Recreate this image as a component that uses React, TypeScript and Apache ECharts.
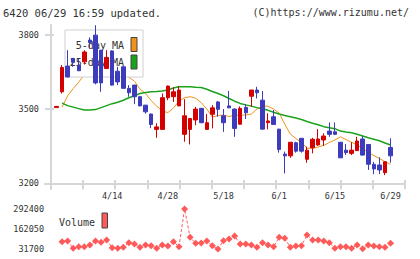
import React, { useEffect, useRef } from "react";
import * as echarts from "echarts";

// Trading days shown on the price chart
const dates = [
  "3/31", "4/1", "4/2", "4/3", "4/6", "4/7", "4/8", "4/9", "4/10", "4/13",
  "4/14", "4/15", "4/16", "4/17", "4/20", "4/21", "4/22", "4/23", "4/24", "4/27",
  "4/28", "4/30", "5/1", "5/7", "5/8", "5/11", "5/12", "5/13", "5/14", "5/15",
  "5/18", "5/19", "5/20", "5/21", "5/22", "5/25", "5/26", "5/27", "5/28", "5/29",
  "6/1", "6/2", "6/3", "6/4", "6/5", "6/8", "6/9", "6/10", "6/11", "6/12",
  "6/15", "6/16", "6/17", "6/18", "6/19", "6/22", "6/23", "6/24", "6/25", "6/26",
  "6/29",
];

const opens = [
  3506, 3570, 3674, 3705, 3678, 3691, 3779, 3799, 3738, 3664,
  3735, 3653, 3671, 3584, 3597, 3550, 3516, 3480, 3418, 3418,
  3546, 3550, 3513, 3398, 3418, 3456, 3503, 3418, 3479, 3529,
  3473, 3513, 3500, 3439, 3507, 3552, 3577, 3536, 3445, 3469,
  3419, 3318, 3311, 3364, 3382, 3297, 3344, 3355, 3375, 3411,
  3408, 3366, 3334, 3321, 3332, 3379, 3357, 3277, 3274, 3243,
  3345,
];
const closes = [
  3511, 3668, 3630, 3689, 3655, 3731, 3769, 3606, 3606, 3709,
  3597, 3610, 3584, 3566, 3550, 3513, 3489, 3438, 3428, 3546,
  3593, 3570, 3577, 3473, 3462, 3500, 3445, 3445, 3505, 3499,
  3445, 3505, 3422, 3503, 3485, 3577, 3566, 3419, 3452, 3438,
  3337, 3311, 3366, 3330, 3330, 3334, 3378, 3379, 3391, 3398,
  3398, 3303, 3324, 3334, 3371, 3314, 3277, 3258, 3254, 3287,
  3311,
];
const lows = [
  3506, 3563, 3628, 3671, 3654, 3680, 3745, 3600, 3570, 3664,
  3595, 3597, 3582, 3550, 3520, 3512, 3482, 3423, 3384, 3418,
  3536, 3529, 3512, 3368, 3357, 3435, 3443, 3417, 3422, 3469,
  3408, 3504, 3388, 3438, 3460, 3509, 3543, 3418, 3418, 3437,
  3324, 3240, 3303, 3324, 3324, 3283, 3321, 3352, 3351, 3388,
  3395, 3302, 3314, 3314, 3331, 3313, 3254, 3237, 3237, 3233,
  3283,
];
const highs = [
  3511, 3678, 3738, 3706, 3702, 3738, 3790, 3839, 3740, 3738,
  3737, 3671, 3672, 3597, 3598, 3552, 3517, 3482, 3443, 3563,
  3595, 3588, 3593, 3540, 3464, 3509, 3504, 3480, 3516, 3533,
  3500, 3573, 3503, 3511, 3520, 3578, 3590, 3573, 3483, 3496,
  3420, 3328, 3367, 3368, 3383, 3348, 3384, 3419, 3402, 3446,
  3446, 3367, 3359, 3366, 3388, 3391, 3358, 3287, 3305, 3288,
  3382,
];

const ma5 = [
  null, 3508, 3554, 3583, 3609, 3640, 3665, 3680, 3685, 3680,
  3670, 3660, 3648, 3629, 3613, 3581, 3563, 3534, 3512, 3492,
  3486, 3504, 3532, 3546, 3550, 3544, 3526, 3500, 3468, 3474,
  3476, 3470, 3474, 3476, 3476, 3480, 3500, 3512, 3512, 3500,
  3484, 3439, 3399, 3381, 3365, 3342, 3341, 3347, 3353, 3365,
  3375, 3388, 3377, 3366, 3355, 3340, 3325, 3312, 3301, 3287,
  3277,
];
const ma25 = [
  null, 3524, 3514, 3508, 3502, 3496, 3496, 3498, 3506, 3514,
  3522, 3528, 3536, 3546, 3554, 3563, 3567, 3570, 3571, 3573,
  3577, 3585, 3590, 3590, 3590, 3588, 3587, 3580, 3571, 3563,
  3554, 3543, 3532, 3523, 3517, 3512, 3506, 3501, 3495, 3487,
  3480, 3474, 3469, 3464, 3458, 3450, 3443, 3437, 3429, 3425,
  3421, 3411, 3407, 3404, 3398, 3391, 3384, 3378, 3372, 3363,
  3355,
];

const volumes = [
  null, 79300, 83800, 36300, 46700, 46700, 57800, 83800, 75400, 90400,
  40200, 36300, 42800, 72800, 64300, 42800, 57800, 53200, 36300, 57800,
  51300, 79300, 46700, 292400, 108000, 68800, 70800, 83800, 53200, 31700,
  85800, 96900, 116400, 64300, 64300, 57800, 42800, 72800, 57800, 46700,
  108000, 101400, 42800, 51300, 53200, 122900, 90400, 90400, 83800, 72800,
  36300, 46700, 46700, 36300, 57800, 33000, 57800, 51300, 46700, 42800,
  68800,
];

const dateLabels = ["4/14", "4/28", "5/18", "6/1", "6/15", "6/29"];
const priceTicks = [3200, 3500, 3800];
const volumeTicks = [31700, 162050, 292400];
const frameTicks = [0, 1, 2, 3, 4, 5, 6, 7, 8, 9, 10, 11];

const MONO = '"DejaVu Sans Mono", "Liberation Mono", monospace';
const AXIS_GRAY = "#d6d6d6";
const TEXT = "#333";
const UP = "#d40000";
const DOWN = "#3c3cbc";
const MA5_COLOR = "#f0921c";
const MA25_COLOR = "#1aa31a";
const VOL_COLOR = "#ff5a5a";

const plain = (v: number) => String(v);

export default function App() {
  const ref = useRef<HTMLDivElement>(null);

  useEffect(() => {
    if (!ref.current) return;
    const chart = echarts.init(ref.current, undefined, { renderer: "svg" });

    const labelStyle = { fontFamily: MONO, fontSize: 8.5, color: TEXT };

    chart.setOption({
      animation: false,
      backgroundColor: "#fff",
      title: [
        {
          text: "6420 06/29 16:59 updated.",
          left: 3,
          top: 7,
          padding: 0,
          textStyle: { fontFamily: MONO, fontSize: 10.5, fontWeight: "normal", color: TEXT },
        },
        {
          text: "(C)https://www.rizumu.net/",
          right: 11,
          top: 7,
          padding: 0,
          textStyle: { fontFamily: MONO, fontSize: 10, fontWeight: "normal", color: TEXT },
        },
      ],
      grid: [
        { left: 53.72, top: 25, width: 339.6, height: 158.3 },
        { left: 45, top: 25, width: 360, height: 164 },
        { left: 53.72, top: 209, width: 339.6, height: 40 },
      ],
      xAxis: [
        {
          type: "category",
          gridIndex: 0,
          data: dates,
          boundaryGap: true,
          axisLine: { show: false },
          axisTick: { show: false },
          splitLine: { show: false },
          axisLabel: {
            ...labelStyle,
            margin: 8,
            interval: (_i: number, v: string) => dateLabels.includes(v),
          },
        },
        {
          type: "value",
          gridIndex: 1,
          position: "bottom",
          min: -0.177,
          max: 11,
          offset: -5.7,
          axisLine: { show: true, lineStyle: { color: AXIS_GRAY, width: 2 } },
          axisTick: { show: true, length: 6, customValues: frameTicks, lineStyle: { color: AXIS_GRAY, width: 2 } },
          axisLabel: { show: false },
          splitLine: { show: false },
        },
        {
          type: "value",
          gridIndex: 1,
          position: "bottom",
          min: -0.177,
          max: 11,
          offset: -5.7,
          axisLine: { show: false },
          axisTick: { show: true, inside: true, length: 3.3, customValues: frameTicks, lineStyle: { color: AXIS_GRAY, width: 2 } },
          axisLabel: { show: false },
          splitLine: { show: false },
        },
        {
          type: "category",
          gridIndex: 2,
          data: dates,
          boundaryGap: true,
          show: false,
        },
      ],
      yAxis: [
        {
          type: "value",
          gridIndex: 1,
          position: "left",
          min: 3177,
          max: 3840,
          offset: -5.7,
          axisLine: { show: true, lineStyle: { color: AXIS_GRAY, width: 2 } },
          axisTick: { show: true, length: 5.7, customValues: priceTicks, lineStyle: { color: AXIS_GRAY, width: 2 } },
          axisLabel: { ...labelStyle, margin: 11.7, customValues: priceTicks, formatter: plain },
          splitLine: { show: false },
        },
        {
          type: "value",
          gridIndex: 1,
          position: "left",
          min: 3177,
          max: 3840,
          offset: -5.7,
          axisLine: { show: false },
          axisTick: { show: true, inside: true, length: 3.3, customValues: priceTicks, lineStyle: { color: AXIS_GRAY, width: 2 } },
          axisLabel: { show: false },
          splitLine: { show: false },
        },
        {
          type: "value",
          gridIndex: 0,
          min: 3200,
          max: 3840,
          show: false,
          splitLine: { show: false },
        },
        {
          type: "value",
          gridIndex: 2,
          position: "left",
          min: 31700,
          max: 292400,
          offset: 3,
          axisLine: { show: false },
          axisTick: { show: false },
          splitLine: { show: false },
          axisLabel: { ...labelStyle, margin: 6.7, customValues: volumeTicks, formatter: plain },
        },
      ],
      graphic: [
        {
          type: "rect",
          z: 2,
          shape: { x: 65, y: 30, width: 78, height: 47 },
          style: { fill: "#fff", stroke: "#d0d0d0", lineWidth: 1 },
        },
        {
          type: "text",
          z: 2,
          style: { x: 124, y: 45.5, text: "5-day MA", align: "right", verticalAlign: "middle", font: `10px ${MONO}`, fill: TEXT },
        },
        {
          type: "rect",
          z: 2,
          shape: { x: 131, y: 37.5, width: 6, height: 14 },
          style: { fill: MA5_COLOR, stroke: "#444", lineWidth: 1 },
        },
        {
          type: "text",
          z: 2,
          style: { x: 124, y: 62, text: "25-day MA", align: "right", verticalAlign: "middle", font: `10px ${MONO}`, fill: TEXT },
        },
        {
          type: "rect",
          z: 2,
          shape: { x: 131, y: 55, width: 6, height: 14 },
          style: { fill: MA25_COLOR, stroke: "#444", lineWidth: 1 },
        },
        {
          type: "text",
          z: 2,
          style: { x: 59, y: 222.5, text: "Volume", align: "left", verticalAlign: "middle", font: `10px ${MONO}`, fill: TEXT },
        },
        {
          type: "rect",
          z: 2,
          shape: { x: 102, y: 213, width: 5.5, height: 15 },
          style: { fill: VOL_COLOR, stroke: "#444", lineWidth: 1 },
        },
      ],
      series: [
        {
          name: "5-day MA",
          type: "line",
          xAxisIndex: 0,
          yAxisIndex: 2,
          data: ma5,
          symbol: "none",
          z: 1,
          lineStyle: { color: MA5_COLOR, width: 1 },
        },
        {
          name: "25-day MA",
          type: "line",
          xAxisIndex: 0,
          yAxisIndex: 2,
          data: ma25,
          symbol: "none",
          z: 1,
          lineStyle: { color: MA25_COLOR, width: 1.5 },
        },
        {
          name: "Price",
          type: "candlestick",
          xAxisIndex: 0,
          yAxisIndex: 2,
          z: 3,
          barWidth: 4,
          data: dates.map((_, i) => [opens[i], closes[i], lows[i], highs[i]]),
          itemStyle: {
            color: UP,
            color0: DOWN,
            borderColor: UP,
            borderColor0: DOWN,
            borderWidth: 1,
          },
        },
        {
          name: "Volume",
          type: "line",
          xAxisIndex: 3,
          yAxisIndex: 3,
          data: volumes,
          symbol: "diamond",
          symbolSize: 7,
          showSymbol: true,
          showAllSymbol: true,
          clip: false,
          z: 2,
          itemStyle: { color: VOL_COLOR },
          lineStyle: { color: VOL_COLOR, width: 1, type: [3, 2] },
        },
      ],
    });

    return () => chart.dispose();
  }, []);

  return (
    <div
      ref={ref}
      style={{ position: "fixed", left: 0, top: 0, width: 420, height: 259, background: "#fff" }}
    />
  );
}
